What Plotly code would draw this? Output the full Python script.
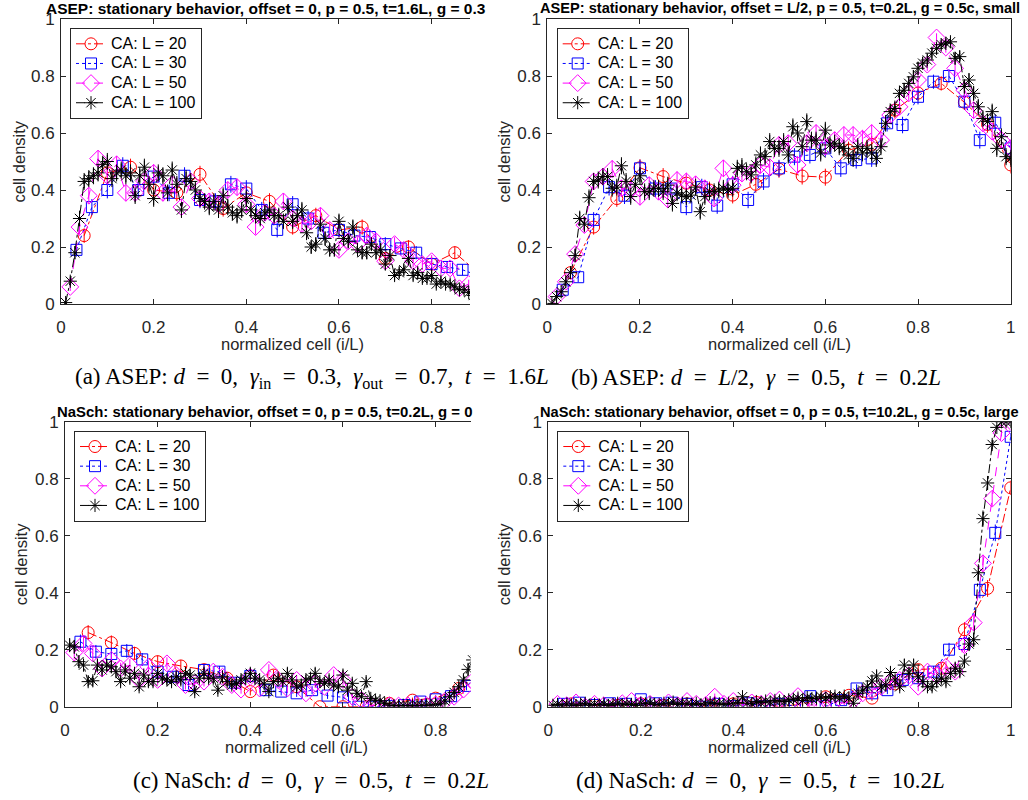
import plotly.graph_objects as go
import numpy as np

W, H = 1028, 800

# ---------------- data (cell density vs normalized cell i/L) ----------------
sizes = [20, 30, 50, 100]
names = ["CA: L = 20", "CA: L = 30", "CA: L = 50", "CA: L = 100"]

# (a) ASEP, d = 0, t = 1.6L
A20 = [0.24, 0.46, 0.48, 0.40, 0.39, 0.455, 0.335, 0.39, 0.36, 0.27,
       0.31, 0.26, 0.27, 0.16, 0.20, 0.14, 0.18, 0.11, 0.08, 0.05]
A30 = [0.19, 0.34, 0.40, 0.485, 0.40, 0.447, 0.39, 0.45, 0.365, 0.36,
       0.42, 0.405, 0.33, 0.26, 0.35, 0.30, 0.25, 0.26, 0.24, 0.235,
       0.21, 0.195, 0.18, 0.14, 0.13, 0.12, 0.10, 0.08, 0.06, 0.04]
A50 = [0.06, 0.27, 0.38, 0.51, 0.45, 0.49, 0.39, 0.39, 0.43, 0.46,
       0.39, 0.42, 0.34, 0.43, 0.37, 0.36, 0.35, 0.40, 0.41, 0.35,
       0.27, 0.32, 0.31, 0.36, 0.30, 0.28, 0.29, 0.31, 0.26, 0.19,
       0.22, 0.21, 0.24, 0.22, 0.15, 0.21, 0.19, 0.15, 0.14, 0.15,
       0.125, 0.125, 0.055, 0.07, 0.05, 0.045, 0.04, 0.03, 0.025, 0.02]
A100 = [0.005, 0.08, 0.18, 0.30, 0.43, 0.44, 0.45, 0.46, 0.49, 0.50,
        0.44, 0.46, 0.47, 0.45, 0.46, 0.38, 0.45, 0.48, 0.42, 0.37,
        0.46, 0.45, 0.39, 0.47, 0.42, 0.33, 0.44, 0.43, 0.40, 0.37,
        0.36, 0.34, 0.36, 0.33, 0.38, 0.34, 0.32, 0.31, 0.33, 0.37,
        0.33, 0.31, 0.30, 0.32, 0.33, 0.31, 0.31, 0.29, 0.34, 0.29,
        0.31, 0.33, 0.25, 0.20, 0.21, 0.28, 0.23, 0.19, 0.19, 0.29,
        0.23, 0.22, 0.27, 0.19, 0.18, 0.18, 0.21, 0.18, 0.19, 0.14,
        0.17, 0.10, 0.11, 0.12, 0.16, 0.10, 0.11, 0.09, 0.09, 0.10,
        0.07, 0.08, 0.07, 0.07, 0.06, 0.05, 0.05, 0.04, 0.03, 0.03,
        0.03, 0.02, 0.025, 0.02, 0.01, 0.015, 0.01, 0.01, 0.012, 0.005]

# (b) ASEP, d = L/2, t = 0.2L
B20 = [0.11, 0.27, 0.37, 0.478, 0.447, 0.424, 0.40, 0.382, 0.42, 0.473,
       0.449, 0.445, 0.54, 0.56, 0.68, 0.74, 0.774, 0.708, 0.63, 0.488]
B30 = [0.05, 0.094, 0.295, 0.41, 0.38, 0.476, 0.405, 0.405, 0.34, 0.41,
       0.345, 0.42, 0.365, 0.43, 0.476, 0.517, 0.523, 0.546, 0.476, 0.505,
       0.511, 0.634, 0.628, 0.727, 0.78, 0.80, 0.71, 0.575, 0.636, 0.546]
B50 = [0.026, 0.078, 0.175, 0.277, 0.43, 0.447, 0.474, 0.406, 0.40, 0.376,
       0.417, 0.394, 0.367, 0.435, 0.43, 0.42, 0.406, 0.37, 0.476, 0.417,
       0.458, 0.458, 0.488, 0.48, 0.558, 0.564, 0.488, 0.564, 0.60, 0.552,
       0.575, 0.593, 0.593, 0.58, 0.60, 0.575, 0.663, 0.692, 0.739, 0.786,
       0.84, 0.935, 0.90, 0.827, 0.75, 0.68, 0.634, 0.605, 0.575, 0.546]
B100 = [0.002, 0.026, 0.043, 0.078, 0.11, 0.17, 0.30, 0.28, 0.373, 0.43,
        0.435, 0.447, 0.447, 0.406, 0.41, 0.485, 0.43, 0.377, 0.42, 0.45,
        0.394, 0.394, 0.406, 0.406, 0.394, 0.417, 0.353, 0.39, 0.382, 0.377,
        0.382, 0.41, 0.324, 0.377, 0.394, 0.394, 0.40, 0.406, 0.40, 0.406,
        0.476, 0.482, 0.464, 0.453, 0.488, 0.523, 0.517, 0.57, 0.546, 0.546,
        0.57, 0.523, 0.622, 0.60, 0.552, 0.64, 0.575, 0.575, 0.53, 0.61,
        0.558, 0.564, 0.552, 0.546, 0.523, 0.511, 0.552, 0.53, 0.546, 0.53,
        0.511, 0.552, 0.634, 0.675, 0.686, 0.739, 0.75, 0.774, 0.797, 0.827,
        0.845, 0.856, 0.88, 0.897, 0.91, 0.915, 0.92, 0.862, 0.868, 0.763,
        0.786, 0.739, 0.692, 0.651, 0.64, 0.675, 0.546, 0.587, 0.517, 0.511]

# (c) NaSch, d = 0, t = 0.2L
C20 = [0.26, 0.225, 0.187, 0.158, 0.143, 0.13, 0.10, 0.053, 0.111, 0.07,
       0.0, 0.0, 0.0, 0.012, 0.023, 0.03, 0.064, 0.12, 0.19, 0.24]
C30 = [0.228, 0.193, 0.185, 0.196, 0.166, 0.123, 0.105, 0.076, 0.129, 0.123,
       0.084, 0.108, 0.058, 0.053, 0.047, 0.058, 0.039, 0.033, 0.0, 0.0,
       0.002, 0.006, 0.018, 0.026, 0.037, 0.073, 0.12, 0.16, 0.23, 0.27]
C50 = [0.19, 0.222, 0.187, 0.134, 0.164, 0.134, 0.146, 0.094, 0.14, 0.094,
       0.152, 0.111, 0.076, 0.082, 0.088, 0.123, 0.105, 0.076, 0.06, 0.105,
       0.064, 0.129, 0.094, 0.064, 0.094, 0.047, 0.082, 0.07, 0.111, 0.094,
       0.035, 0.023, 0.006, 0.0, 0.005, 0.004, 0.005, 0.006, 0.005, 0.008,
       0.02, 0.035, 0.06, 0.09, 0.11, 0.15, 0.17, 0.23, 0.25, 0.31]
C100 = [0.216, 0.21, 0.158, 0.146, 0.088, 0.091, 0.146, 0.129, 0.146, 0.14,
        0.123, 0.088, 0.129, 0.10, 0.117, 0.07, 0.111, 0.088, 0.088, 0.117,
        0.10, 0.094, 0.088, 0.105, 0.094, 0.117, 0.111, 0.053, 0.10, 0.117,
        0.10, 0.10, 0.058, 0.105, 0.088, 0.076, 0.082, 0.094, 0.10, 0.117,
        0.10, 0.094, 0.08, 0.053, 0.088, 0.10, 0.088, 0.117, 0.094, 0.07,
        0.076, 0.094, 0.10, 0.117, 0.088, 0.082, 0.094, 0.076, 0.07, 0.111,
        0.058, 0.082, 0.047, 0.035, 0.088, 0.029, 0.023, 0.021, 0.012, 0.006,
        0.004, 0.003, 0.005, 0.004, 0.003, 0.005, 0.004, 0.006, 0.005, 0.008,
        0.01, 0.02, 0.035, 0.05, 0.07, 0.094, 0.131, 0.164, 0.18, 0.22,
        0.24, 0.29, 0.30, 0.35, 0.36, 0.41, 0.42, 0.47, 0.48, 0.52]

# (d) NaSch, d = 0, t = 10.2L
D20 = [0.01, 0.005, 0.005, 0.01, 0.005, 0.01, 0.005, 0.01, 0.015, 0.0,
       0.01, 0.035, 0.04, 0.03, 0.08, 0.13, 0.135, 0.27, 0.415, 0.768]
D30 = [0.01, 0.014, 0.006, 0.012, 0.01, 0.026, 0.012, 0.014, 0.01, 0.0,
       0.01, 0.002, 0.012, 0.002, 0.01, 0.002, 0.037, 0.002, 0.023, 0.064,
       0.047, 0.058, 0.094, 0.10, 0.123, 0.20, 0.22, 0.41, 0.61, 0.947]
D50 = [0.01, 0.005, 0.015, 0.0, 0.01, 0.005, 0.0, 0.012, 0.02, 0.005,
       0.01, 0.0, 0.015, 0.005, 0.02, 0.01, 0.005, 0.035, 0.01, 0.02,
       0.005, 0.015, 0.01, 0.02, 0.025, 0.01, 0.037, 0.006, 0.006, 0.023,
       0.018, 0.012, 0.023, 0.047, 0.058, 0.07, 0.088, 0.094, 0.11, 0.07,
       0.123, 0.11, 0.14, 0.123, 0.216, 0.295, 0.503, 0.73, 0.96, 1.0]
D100 = [0.005, 0.008, 0.003, 0.01, 0.006, 0.004, 0.009, 0.012, 0.005, 0.008,
        0.006, 0.01, 0.004, 0.008, 0.012, 0.006, 0.01, 0.008, 0.004, 0.012,
        0.01, 0.014, 0.008, 0.006, 0.012, 0.01, 0.016, 0.008, 0.012, 0.01,
        0.008, 0.012, 0.006, 0.01, 0.014, 0.012, 0.01, 0.008, 0.012, 0.01,
        0.015, 0.035, 0.012, 0.01, 0.018, 0.014, 0.02, 0.016, 0.022, 0.02,
        0.018, 0.024, 0.026, 0.03, 0.022, 0.032, 0.028, 0.03, 0.035, 0.03,
        0.035, 0.037, 0.03, 0.037, 0.03, 0.012, 0.047, 0.058, 0.07, 0.09,
        0.108, 0.07, 0.076, 0.12, 0.094, 0.07, 0.146, 0.117, 0.146, 0.105,
        0.088, 0.07, 0.07, 0.088, 0.10, 0.088, 0.117, 0.135, 0.123, 0.16,
        0.22, 0.235, 0.47, 0.66, 0.785, 0.92, 0.98, 1.0, 1.0, 1.0]

panel_data = [[A20, A30, A50, A100], [B20, B30, B50, B100],
              [C20, C30, C50, C100], [D20, D30, D50, D100]]

titles = ["ASEP: stationary behavior, offset = 0, p = 0.5, t=1.6L, g = 0.3",
          "ASEP: stationary behavior, offset = L/2, p = 0.5, t=0.2L, g = 0.5c, small",
          "NaSch: stationary behavior, offset = 0, p = 0.5, t=0.2L, g = 0",
          "NaSch: stationary behavior, offset = 0, p = 0.5, t=10.2L, g = 0.5c, large"]

EQ = "&nbsp;&nbsp;=&nbsp;&nbsp;"
CM = ",&nbsp; "
captions = ["(a) ASEP: <i>d</i>" + EQ + "0" + CM + "<i>γ</i><sub>in</sub>" + EQ + "0.3" + CM
            + "<i>γ</i><sub>out</sub>" + EQ + "0.7" + CM + "<i>t</i>" + EQ + "1.6<i>L</i>",
            "(b) ASEP: <i>d</i>" + EQ + "<i>L</i>/2" + CM + "<i>γ</i>" + EQ + "0.5" + CM
            + "<i>t</i>" + EQ + "0.2<i>L</i>",
            "(c) NaSch: <i>d</i>" + EQ + "0" + CM + "<i>γ</i>" + EQ + "0.5" + CM
            + "<i>t</i>" + EQ + "0.2<i>L</i>",
            "(d) NaSch: <i>d</i>" + EQ + "0" + CM + "<i>γ</i>" + EQ + "0.5" + CM
            + "<i>t</i>" + EQ + "10.2<i>L</i>"]

ytick_vals = [0, 0.2, 0.4, 0.6, 0.8, 1]
ytick_text = ["0", "0.2", "0.4", "0.6", "0.8", "1"]

# ---------------- styling / layout (page pixels) ----------------
colors = ["#FF0000", "#0000FF", "#FF00FF", "#000000"]
symbols = ["circle-open", "square-open", "diamond-open", "asterisk-open"]
msizes = [12, 11, 13, 11]
dashes = ["dashdot", "dot", "dash", "dashdot"]

# plot area boxes: (x_left, x_right_visible, px_per_unit, y_top, y_bottom)
boxes = [(61, 470, 463.3, 19, 304),
         (547.3, 1010.7, 463.4, 19, 304),
         (65, 470.7, 463.3, 421.7, 706.7),
         (548.3, 1010.7, 462.4, 421.7, 706.7)]
clipped = [True, False, True, False]
legend_pos = [(70, 28), (556.7, 28), (74, 430.7), (557.3, 430.7)]
title_pos = [(44, 8, "left"), (779.5, 8, "center"), (55, 412, "left"), (779.5, 412, "center")]
title_size = [15.5, 14.6, 14.9, 14.6]
ylab_x = [18, 503, 21, 504]
caption_x = [312, 756, 311, 760]


def px(x):
    return x / W


def py(y):
    return 1 - y / H


FONT = "Liberation Sans, Arial, Helvetica, sans-serif"
AXC = "#262626"

fig = go.Figure()
layout = dict(width=W, height=H,
              margin=dict(l=0, r=0, t=0, b=0, pad=0, autoexpand=False),
              paper_bgcolor="white", plot_bgcolor="white",
              font=dict(family=FONT, color=AXC), showlegend=True)
annotations = []

for p in range(4):
    xl, xr, ppu, yt, yb = boxes[p]
    ax = "" if p == 0 else str(p + 1)
    xmax = (xr - xl) / ppu
    for s in range(4):
        L = sizes[s]
        y = np.array(panel_data[p][s], dtype=float)
        x = np.arange(1, L + 1) / L
        err = 0.06 * np.sqrt(np.clip(y * (1 - y), 0, None))
        fig.add_trace(go.Scatter(
            x=x, y=y, mode="lines+markers",
            name="<span style='font-size:16px'>" + names[s] + "</span>",
            xaxis="x" + ax, yaxis="y" + ax,
            legend="legend" + ax,
            line=dict(color=colors[s], width=1, dash=dashes[s]),
            marker=dict(symbol=symbols[s], size=msizes[s], color=colors[s],
                        line=dict(color=colors[s], width=1)),
            error_y=dict(type="data", array=err, color=colors[s], thickness=1, width=0),
        ))
    xtv = [0, 0.2, 0.4, 0.6, 0.8] if clipped[p] else ytick_vals
    xtt = ["0", "0.2", "0.4", "0.6", "0.8"] if clipped[p] else ytick_text
    layout["xaxis" + ax] = dict(
        domain=[px(xl), px(xr)], anchor="y" + ax, range=[0, xmax], automargin=False,
        tickvals=xtv, ticktext=xtt, ticks="inside", ticklen=5,
        tickcolor=AXC, showline=True, linecolor=AXC, linewidth=1,
        mirror="ticks", showgrid=False, zeroline=False,
        tickfont=dict(size=17, color=AXC, family=FONT), ticklabelstandoff=8)
    layout["yaxis" + ax] = dict(
        domain=[py(yb), py(yt)], anchor="x" + ax, range=[0, 1], automargin=False,
        tickvals=ytick_vals, ticktext=ytick_text, ticks="inside", ticklen=5,
        tickcolor=AXC, showline=True, linecolor=AXC, linewidth=1,
        mirror=False if clipped[p] else "ticks", showgrid=False, zeroline=False,
        tickfont=dict(size=17, color=AXC, family=FONT), ticklabelstandoff=2)
    lx, ly = legend_pos[p]
    layout["legend" + ax] = dict(
        x=px(lx), y=py(ly), xanchor="left", yanchor="top",
        xref="paper", yref="paper",
        bgcolor="white", bordercolor=AXC, borderwidth=1,
        font=dict(size=12.8, color="black", family=FONT),
        tracegroupgap=0, itemwidth=30)
    # panel title
    tx, ty, tanch = title_pos[p]
    annotations.append(dict(text="<b>" + titles[p] + "</b>", x=px(tx), y=py(ty),
                            xref="paper", yref="paper", xanchor=tanch, yanchor="middle",
                            showarrow=False,
                            font=dict(size=title_size[p], color="black", family=FONT)))
    # x-axis label centred on the full (unclipped) axes
    xc = xl + ppu / 2
    annotations.append(dict(text="normalized cell (i/L)", x=px(xc), y=py(yb + 40),
                            xref="paper", yref="paper", xanchor="center", yanchor="middle",
                            showarrow=False, font=dict(size=16.5, color=AXC, family=FONT)))
    annotations.append(dict(text="cell density", x=px(ylab_x[p]), y=py((yt + yb) / 2),
                            xref="paper", yref="paper", xanchor="center", yanchor="middle",
                            textangle=-90, showarrow=False,
                            font=dict(size=16.5, color=AXC, family=FONT)))
    annotations.append(dict(text=captions[p], x=px(caption_x[p]), y=py(yb + 74),
                            xref="paper", yref="paper", xanchor="center", yanchor="middle",
                            showarrow=False,
                            font=dict(size=23, color="black",
                                      family="Liberation Serif, Times New Roman, serif")))

layout["annotations"] = annotations
fig.update_layout(**layout)

# remove the default 8px page margin so the figure fills the 1028x800 window exactly
page_fix = ("document.body.style.margin='0px';"
            "document.body.style.overflow='hidden';"
            "document.documentElement.style.overflow='hidden';")
fig.write_html("out.html", post_script=page_fix, config={"displayModeBar": False})
